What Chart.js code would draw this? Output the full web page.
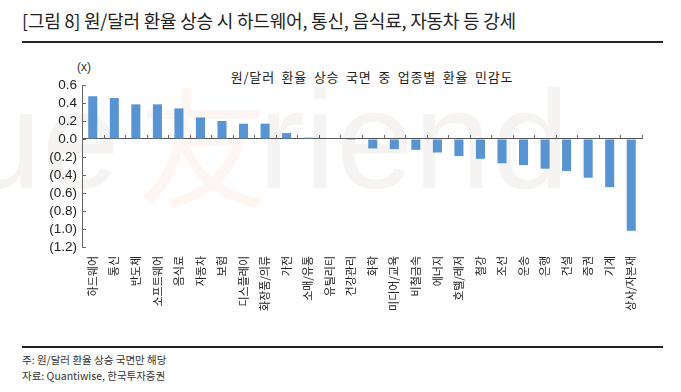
<!DOCTYPE html>
<html>
<head>
<meta charset="utf-8">
<script src="https://cdn.jsdelivr.net/npm/chart.js@4.4.1/dist/chart.umd.min.js"></script>
<style>
  body { margin:0; background:#fff; width:681px; height:392px; position:relative; overflow:hidden;
         font-family:"Noto Sans CJK KR", "Noto Sans", sans-serif; color:#222; }
  .head { position:absolute; left:22px; top:7px; font-size:18px; letter-spacing:-0.2px; white-space:nowrap; }
  .rule { position:absolute; left:22px; width:641px; background:#222; }
  .note { position:absolute; left:22px; font-size:10.5px; color:#333; white-space:nowrap; }
  .ctitle { position:absolute; left:0; width:744px; top:67px; text-align:center; font-size:13px;
            letter-spacing:0.8px; word-spacing:3px; color:#222; }
  .unit { position:absolute; left:77px; top:60px; font-size:12px; font-family:"Liberation Sans", Arial, sans-serif; color:#333; }
  .wm { position:absolute; top:60px; font-family:"Liberation Sans", Arial, sans-serif; font-size:140px;
        line-height:160px; color:#f6f4f2; white-space:nowrap; }
  #wrap { position:absolute; left:0; top:60px; width:681px; height:280px; }
</style>
</head>
<body>
<div class="head">[그림 8] 원/달러 환율 상승 시 하드웨어, 통신, 음식료, 자동차 등 강세</div>
<div class="rule" style="top:41px;height:2px"></div>
<div class="wm" style="left:-36px">ue</div>
<div class="wm" style="left:138px;color:#fdf6f2;font-family:'Noto Sans CJK SC';font-size:130px">友</div>
<div class="wm" style="left:258px">riend</div>
<div class="unit">(x)</div>
<div class="ctitle">원/달러 환율 상승 국면 중 업종별 환율 민감도</div>
<div id="wrap"><canvas id="c"></canvas></div>
<div class="rule" style="top:346px;height:1.5px"></div>
<div class="note" style="top:352px">주: 원/달러 환율 상승 국면만 해당</div>
<div class="note" style="top:368px">자료: Quantiwise, 한국투자증권</div>
<script>
var categories = ['하드웨어','통신','반도체','소프트웨어','음식료','자동차','보험','디스플레이','화장품/의류','가전',
  '소매/유통','유틸리티','건강관리','화학','미디어/교육','비철금속','에너지','호텔/레저','철강','조선',
  '운송','은행','건설','증권','기계','상사/자본재'];
var sensitivity = [0.475, 0.455, 0.385, 0.385, 0.34, 0.24, 0.20, 0.17, 0.17, 0.065,
  0.015, 0.005, -0.01, -0.105, -0.113, -0.12, -0.15, -0.19, -0.22, -0.27,
  -0.29, -0.33, -0.355, -0.43, -0.535, -1.02];
var yTicks = [0.6, 0.4, 0.2, 0.0, -0.2, -0.4, -0.6, -0.8, -1.0, -1.2];

function fmt(v) {
  var s = Math.abs(v).toFixed(1);
  return v < -0.001 ? '(' + s + ')' : s;
}

// inward y ticks and category ticks on the zero line
var axisMarks = {
  id: 'axisMarks',
  afterDraw: function (chart) {
    var ctx = chart.ctx, x = chart.scales.x, y = chart.scales.y;
    var left = chart.chartArea.left, zero = y.getPixelForValue(0);
    ctx.save();
    ctx.strokeStyle = '#666';
    ctx.lineWidth = 1;
    ctx.beginPath();
    yTicks.forEach(function (v) {
      var py = Math.round(y.getPixelForValue(v)) + 0.5;
      ctx.moveTo(left, py); ctx.lineTo(left + 4, py);
    });
    for (var i = 0; i <= categories.length; i++) {
      var px = Math.round(x.getPixelForValue(i - 0.5)) + 0.5;
      ctx.moveTo(px, zero); ctx.lineTo(px, zero - 4);
    }
    ctx.stroke();
    ctx.restore();
  }
};

new Chart(document.getElementById('c'), {
  type: 'bar',
  data: {
    labels: categories,
    datasets: [{ data: sensitivity, backgroundColor: '#5893d2', barPercentage: 0.42, categoryPercentage: 1 }]
  },
  options: {
    responsive: true,
    maintainAspectRatio: false,
    animation: false,
    layout: { padding: { top: 25, right: 39, bottom: 0, left: 0 } },
    plugins: { legend: { display: false }, tooltip: { enabled: false } },
    scales: {
      x: {
        grid: { display: false, drawTicks: false },
        border: { display: false },
        ticks: { autoSkip: false, maxRotation: 90, minRotation: 90, padding: 9, color: '#222',
                 font: { family: '"Noto Sans CJK KR"', size: 11 } },
        afterFit: function (s) { s.height = 93; }
      },
      y: {
        min: -1.2, max: 0.6,
        afterBuildTicks: function (s) { s.ticks = yTicks.map(function (v) { return { value: v }; }); },
        grid: {
          drawTicks: false,
          color: function (c) { return c.tick && Math.abs(c.tick.value) < 1e-9 ? '#555' : 'rgba(0,0,0,0)'; }
        },
        border: { display: true, color: '#666' },
        ticks: { autoSkip: false, padding: 5, color: '#222', callback: function (v) { return fmt(v); },
                 font: { family: '"Liberation Sans", Arial, sans-serif', size: 13.5 } },
        afterFit: function (s) { s.width = 82; }
      }
    }
  },
  plugins: [axisMarks]
});
</script>
</body>
</html>
